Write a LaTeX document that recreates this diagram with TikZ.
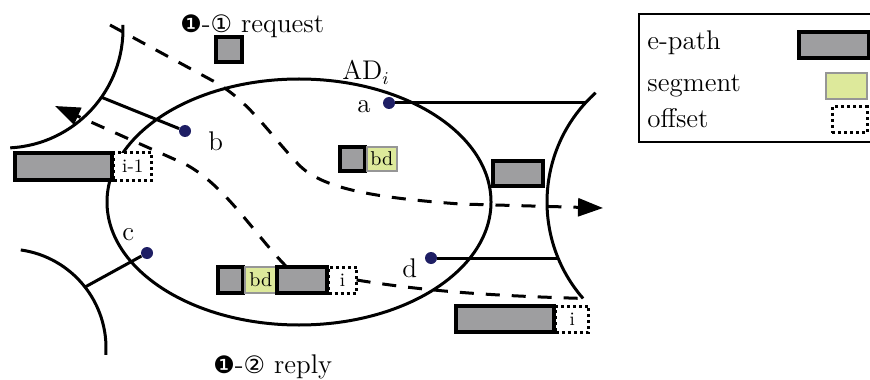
\documentclass[tikz,border=0pt]{standalone}
\usepackage{fontspec}
\newfontfamily\symfont{DejaVu Sans}
\usetikzlibrary{arrows.meta,positioning}
\definecolor{epathgray}{RGB}{158,158,160}
\definecolor{segfill}{RGB}{221,233,155}
\definecolor{segline}{RGB}{150,150,150}
\definecolor{dotblue}{RGB}{30,30,100}

\begin{document}
\begin{tikzpicture}[
  x=0.5pt,y=-0.5pt,
  every node/.style={font=\fontsize{13.5}{16}\selectfont},
  txt/.style={anchor=base west,inner sep=0pt},
  adline/.style={line width=1.5pt},
  route/.style={line width=1.5pt,dash pattern=on 7pt off 6pt},
  tip/.style={-{Triangle[length=12.5pt,width=9pt]}},
  epath/.style={draw,line width=1.8pt,fill=epathgray,inner sep=0pt,outer sep=0pt,minimum height=12.5pt},
  seg/.style={draw=segline,line width=1pt,fill=segfill,inner sep=0pt,outer sep=0pt,minimum height=12.5pt,font=\fontsize{10}{12}\selectfont},
  offs/.style={draw,fill=white,line width=1.5pt,dash pattern=on 1.5pt off 1.5pt,inner sep=0pt,outer sep=0pt,minimum height=12.5pt,font=\fontsize{9.5}{11}\selectfont},
  router/.style={circle,fill=dotblue,minimum size=6pt,inner sep=0pt}
]
  \useasboundingbox (0,0) rectangle (870,379);
  \clip (0,0) rectangle (870,379);

  \draw[adline] (4,29) ++(-2:119) arc[start angle=-2,end angle=87,radius=119];
  \path (4,29) ++(35:119) coordinate (bport);
  \draw[adline] (7,348) ++(-82:99) arc[start angle=-82,end angle=4,radius=99];
  \path (7,348) ++(-38:99) coordinate (cport);
  \draw[adline] (694,202) ++(228:147) arc[start angle=228,end angle=139,radius=147] coordinate (rend);
  \path (694,202) ++(222.3:147) coordinate (aport);
  \path (694,202) ++(157.6:147) coordinate (dport);
  \draw[adline] (299,202) ellipse[x radius=192,y radius=123];

  \node[router] (a) at (389,103) {};
  \node[router] (b) at (185,131) {};
  \node[router] (c) at (147,253) {};
  \node[router] (d) at (431,258) {};
  \draw[adline] (bport) -- (b);
  \draw[adline] (cport) -- (c);
  \draw[adline] (a) -- (a -| aport);
  \draw[adline] (d) -- (d -| dport);

  \node[txt] (la) at (357,113) {a};
  \node[txt] (lb) at (208,150) {b};
  \node[txt] (lc) at (122,240) {c};
  \node[txt] (ld) at (402,277) {d};
  \node[txt] (adi) at (342,80) {AD$_i$};
  \node[txt] (request) at (180,33) {{\symfont\fontsize{12}{14}\selectfont ❶}-{\symfont\fontsize{12}{14}\selectfont ①} request};
  \node[txt] (reply) at (213,373) {{\symfont\fontsize{12}{14}\selectfont ❶}-{\symfont\fontsize{12}{14}\selectfont ②} reply};

  \node[epath,minimum width=13pt] (req) at (229,49.5) {};
  \node[epath,minimum width=48.5pt,minimum height=13.5pt] (ep1) at (63.5,166.5) {};
  \node[offs,right=0.9pt of ep1,minimum width=19pt,minimum height=13.5pt] (off1) {i-1};
  \node[epath,minimum width=12.5pt,minimum height=12pt] (sq1) at (352.5,159) {};
  \node[seg,right=0.9pt of sq1,minimum width=15pt,minimum height=12pt] (bd1) {bd};
  \node[epath,minimum width=25pt] (ep2) at (518,173.5) {};
  \node[epath,minimum width=12.5pt,minimum height=13pt] (sq2) at (230.5,280) {};
  \node[seg,right=0.9pt of sq2,minimum width=16pt,minimum height=13pt] (bd2) {bd};
  \node[epath,right=0pt of bd2,minimum width=25pt,minimum height=13pt] (ep3) {};
  \node[offs,right=0.9pt of ep3,minimum width=14pt,minimum height=13pt] (off3) {i};
  \node[epath,minimum width=49pt,minimum height=13pt] (ep4) at (505,319) {};
  \node[offs,right=0.9pt of ep4,minimum width=16.5pt,minimum height=13pt] (off4) {i};

  \coordinate (reqstart) at (110,25);
  \coordinate (reqend) at (603,208);
  \coordinate (replyend) at (55,106);
  \draw[route,tip] (reqstart) -- (215,82) .. controls (250,102) and (270,135) .. (300,166)
    .. controls (325,190) and (380,198) .. (460,204) -- (reqend);
  \draw[route,tip] ([xshift=5pt]ep3.north west) .. controls (255,235) and (225,185) .. (185,164) -- (replyend);
  \draw[route] (off3.east) .. controls (430,292) and (500,296) .. (rend);

  \draw[line width=0.9pt] (639,14) rectangle (900,142);
  \node[txt] (lep) at (647,50) {e-path};
  \node[txt] (lseg) at (647,92) {segment};
  \node[txt] (loff) at (647,128) {offset};
  \node[epath,minimum width=35pt,minimum height=13pt] (kep) at (834,45) {};
  \node[seg,minimum width=20.5pt,minimum height=13pt] (kseg) at (846.5,86) {};
  \node[offs,minimum width=17.5pt,minimum height=13pt] (koff) at (849.5,120) {};
\end{tikzpicture}
\end{document}
